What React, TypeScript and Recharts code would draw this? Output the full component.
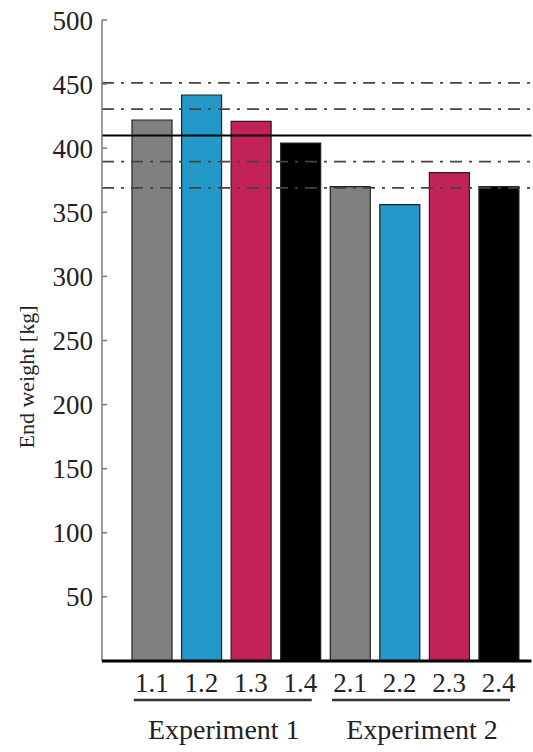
import React from 'react';
import {
  BarChart,
  Bar,
  Cell,
  XAxis,
  YAxis,
  ReferenceLine,
} from 'recharts';

// trial labels, end weights (kg)
const categories = ['1.1', '1.2', '1.3', '1.4', '2.1', '2.2', '2.3', '2.4'];
const endWeights = [422, 441.5, 421, 404, 370, 356, 381, 370];
const barColors = ['#808080', '#2399c9', '#c2215a', '#000000', '#808080', '#2399c9', '#c2215a', '#000000'];
const groups = ['Experiment 1', 'Experiment 2'];
const yTicks = [50, 100, 150, 200, 250, 300, 350, 400, 450, 500];
const meanWeight = 410;
const bandLines = [451, 430.5, 389.5, 369];

const FONT = '"Liberation Serif", "Times New Roman", serif';

const chartData = categories.map((name, i) => ({
  name,
  weight: endWeights[i],
  group: groups[Math.floor(i / 4)],
}));

function TrialTick(props: any) {
  const { x, y, payload, index } = props;
  const first = index % 4 === 0;
  return (
    <g>
      <text x={x} y={y + 31} textAnchor="middle" style={{ fontFamily: FONT, fontSize: 27 }} fill="#222">
        {payload.value}
      </text>
      {first && (
        <g>
          <line x1={x - 18} x2={x + 160} y1={y + 39} y2={y + 39} stroke="#333" strokeWidth={2.5} />
          <text x={x + 72} y={y + 78} textAnchor="middle" style={{ fontFamily: FONT, fontSize: 28 }} fill="#222">
            {chartData[index].group}
          </text>
        </g>
      )}
    </g>
  );
}

export default function App(): JSX.Element {
  return (
    <div style={{ position: 'absolute', left: 0, top: 0, background: '#fff' }}>
      <BarChart
        width={533}
        height={752}
        data={chartData}
        margin={{ top: 20, right: 1.5, bottom: 0, left: 0 }}
        barSize={40}
      >
        <XAxis
          xAxisId="top"
          orientation="top"
          dataKey="name"
          height={0}
          padding={{ left: 25, right: 8 }}
          tickSize={-4}
          tickFormatter={() => ''}
          stroke="#888"
          strokeWidth={1.5}
        />
        <YAxis
          yAxisId="right"
          orientation="right"
          width={0}
          domain={[0, 500]}
          ticks={yTicks}
          tickSize={-4}
          tickFormatter={() => ''}
          stroke="#888"
          strokeWidth={1.5}
        />
        <YAxis
          domain={[0, 500]}
          ticks={yTicks}
          width={102}
          tickSize={-5}
          tickMargin={14}
          stroke="#777"
          strokeWidth={1.5}
          tick={{ style: { fontFamily: FONT, fontSize: 27 }, fill: '#222' }}
          label={{
            content: () => (
              <text
                x={26}
                y={377}
                transform="rotate(-90 26 377)"
                textAnchor="middle"
                dominantBaseline="central"
                style={{ fontFamily: FONT, fontSize: 22 }}
                fill="#222"
              >
                End weight [kg]
              </text>
            ),
          }}
        />
        <XAxis
          dataKey="name"
          height={91}
          padding={{ left: 25, right: 8 }}
          tickLine={false}
          tickSize={0}
          tickMargin={0}
          axisLine={{ stroke: '#000', strokeWidth: 3 }}
          interval={0}
          tick={<TrialTick />}
        />
        {bandLines.map((v) => (
          <ReferenceLine key={v} y={v} stroke="#444" strokeWidth={1.8} strokeDasharray="12 7 3 7" />
        ))}
        <Bar dataKey="weight" isAnimationActive={false} stroke="#222" strokeWidth={1.2}>
          {chartData.map((d, i) => (
            <Cell key={d.name} fill={barColors[i]} />
          ))}
        </Bar>
        <ReferenceLine y={meanWeight} stroke="#000" strokeWidth={2} />
      </BarChart>
    </div>
  );
}
